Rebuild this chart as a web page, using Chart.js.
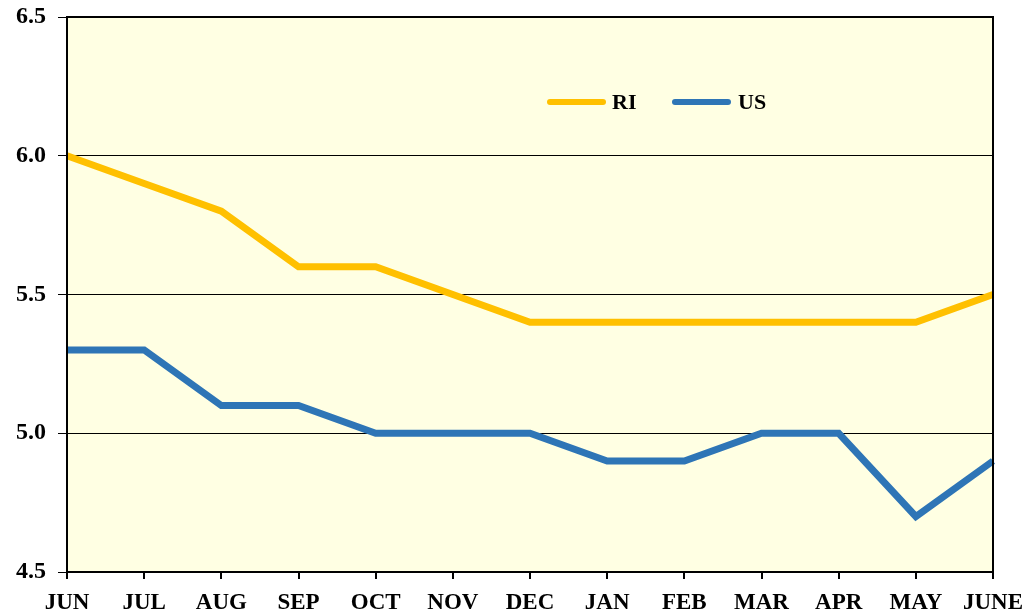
<!DOCTYPE html>
<html><head><meta charset="utf-8">
<script src="https://cdn.jsdelivr.net/npm/chart.js@4"></script>
<style>html,body{margin:0;padding:0;background:#fff}#wrap{width:1030px;height:615px}</style>
</head><body><div id="wrap"><canvas id="c" width="1030" height="615"></canvas></div>
<script>
const categories = ["JUN","JUL","AUG","SEP","OCT","NOV","DEC","JAN","FEB","MAR","APR","MAY","JUNE"];
const riValues = [6.0,5.9,5.8,5.6,5.6,5.5,5.4,5.4,5.4,5.4,5.4,5.4,5.5];
const usValues = [5.3,5.3,5.1,5.1,5.0,5.0,5.0,4.9,4.9,5.0,5.0,4.7,4.9];
const yTicks = [4.5,5.0,5.5,6.0,6.5];
const FONT = "'Liberation Serif','Times New Roman',serif";

const bgPlugin = {
  id:'bg',
  beforeDraw(chart){
    const {ctx, chartArea:a} = chart;
    ctx.save(); ctx.fillStyle='#FFFFE3';
    ctx.fillRect(a.left,a.top,a.right-a.left,a.bottom-a.top); ctx.restore();
  },
  afterDatasetsDraw(chart){
    const {ctx, chartArea:a} = chart;
    ctx.save(); ctx.strokeStyle='#000'; ctx.lineWidth=2;
    ctx.strokeRect(a.left,a.top,a.right-a.left,a.bottom-a.top); ctx.restore();
  },
  afterDraw(chart){
    const {ctx} = chart;
    const items = [{x:547,tx:612},{x:672,tx:738}];
    ctx.save();
    ctx.font = "bold 22px "+FONT; ctx.textBaseline='middle'; ctx.textAlign='left';
    chart.data.datasets.forEach((ds,i)=>{
      const it = items[i]; const y=102;
      ctx.strokeStyle=ds.borderColor; ctx.lineWidth=6; ctx.lineCap='round';
      ctx.beginPath(); ctx.moveTo(it.x+3,y); ctx.lineTo(it.x+56,y); ctx.stroke();
      ctx.fillStyle='#000'; ctx.fillText(ds.label,it.tx,y+1);
    });
    ctx.restore();
  }
};

new Chart(document.getElementById('c'),{
  type:'line',
  data:{labels:categories,datasets:[
    {label:'RI',data:riValues,borderColor:'#FFC000',borderWidth:7,pointRadius:0,tension:0,borderJoinStyle:'miter'},
    {label:'US',data:usValues,borderColor:'#2E75B6',borderWidth:7,pointRadius:0,tension:0,borderJoinStyle:'miter'}
  ]},
  options:{
    responsive:false,animation:false,devicePixelRatio:1,
    layout:{padding:{left:0,right:37,top:17,bottom:0}},
    plugins:{legend:{display:false},tooltip:{enabled:false}},
    scales:{
      x:{offset:false,
        grid:{drawOnChartArea:false,drawTicks:true,tickLength:7,color:'#000',lineWidth:2},
        border:{display:false},
        ticks:{color:'#000',font:{family:FONT,size:23,weight:'bold'},padding:10,maxRotation:0,autoSkip:false},
        afterFit(s){s.height=43;s.paddingLeft=0;s.paddingRight=0;}
      },
      y:{min:4.5,max:6.5,
        afterBuildTicks(s){s.ticks=yTicks.map(v=>({value:v}));},
        grid:{color:'#000',lineWidth:1,tickLength:9,drawTicks:true},
        border:{display:false},
        ticks:{color:'#000',font:{family:FONT,size:24,weight:'bold'},padding:12,callback:v=>Number(v).toFixed(1)},
        afterFit(s){s.width=67;s.paddingTop=0;s.paddingBottom=0;}
      }
    }
  },
  plugins:[bgPlugin]
});
</script></body></html>
